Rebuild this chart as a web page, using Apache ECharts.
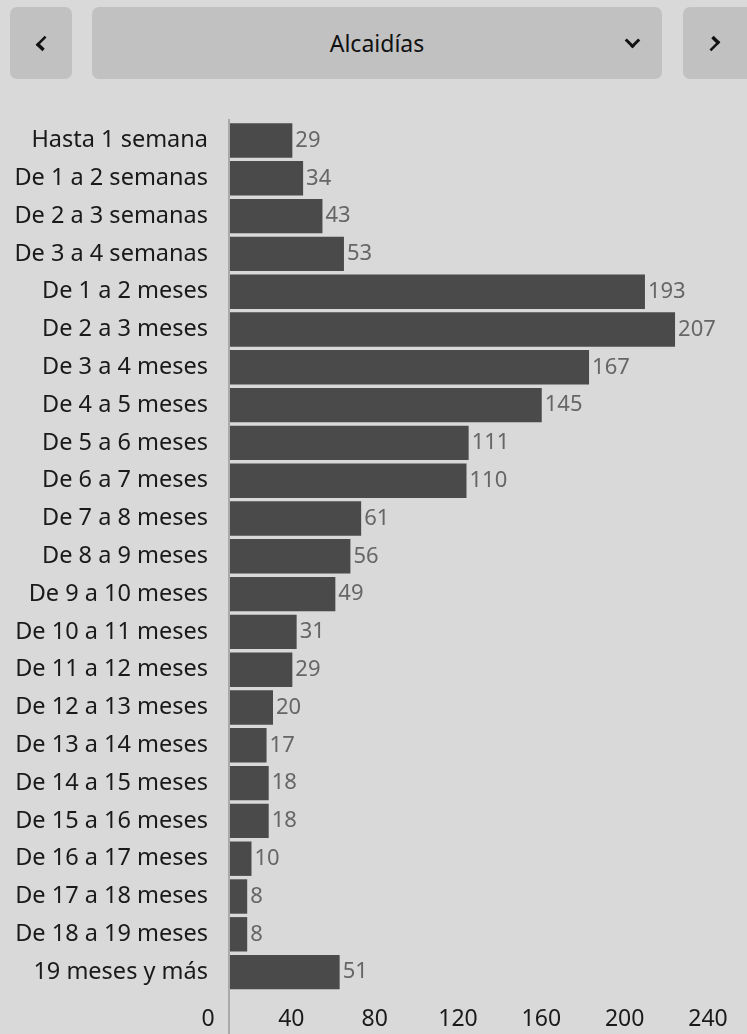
<!DOCTYPE html>
<html>
<head>
<meta charset="utf-8">
<script src="https://cdn.jsdelivr.net/npm/echarts@6/dist/echarts.min.js"></script>
<style>
  html, body { margin: 0; padding: 0; background: #d9d9d9; font-family: "Noto Sans", sans-serif; }
  #top { position: absolute; left: 0; top: 0; width: 747px; height: 90px; }
  .btn { position: absolute; top: 7px; height: 72px; background: #c1c1c1; border-radius: 7px; }
  .chev { position: absolute; width: 8px; height: 8px; border-left: 3px solid #111; border-bottom: 3px solid #111; }
  #main { position: absolute; left: 0; top: 0; width: 747px; height: 1034px; }
</style>
</head>
<body>
<div id="top">
  <div class="btn" style="left:10px;width:62px;">
    <div class="chev" style="left:28px;top:31px;transform:rotate(45deg) scale(0.85,1.15);"></div>
  </div>
  <div class="btn" style="left:92px;width:570px;">
    <div style="position:absolute;left:0;right:0;top:20px;text-align:center;font-size:23px;color:#111;">Alcaidías</div>
    <div class="chev" style="left:535px;top:28px;transform:rotate(-45deg);"></div>
  </div>
  <div class="btn" style="left:683px;width:64px;border-radius:7px 0 0 7px;">
    <div class="chev" style="left:24px;top:31px;transform:rotate(-135deg) scale(0.85,1.15);"></div>
  </div>
</div>
<div id="main"></div>
<script>
var categorias = ['Hasta 1 semana', 'De 1 a 2 semanas', 'De 2 a 3 semanas', 'De 3 a 4 semanas',
  'De 1 a 2 meses', 'De 2 a 3 meses', 'De 3 a 4 meses', 'De 4 a 5 meses', 'De 5 a 6 meses',
  'De 6 a 7 meses', 'De 7 a 8 meses', 'De 8 a 9 meses', 'De 9 a 10 meses', 'De 10 a 11 meses',
  'De 11 a 12 meses', 'De 12 a 13 meses', 'De 13 a 14 meses', 'De 14 a 15 meses',
  'De 15 a 16 meses', 'De 16 a 17 meses', 'De 17 a 18 meses', 'De 18 a 19 meses', '19 meses y más'];
var valores = [29, 34, 43, 53, 193, 207, 167, 145, 111, 110, 61, 56, 49, 31, 29, 20, 17, 18, 18, 10, 8, 8, 51];
var ticks = [0, 40, 80, 120, 160, 200, 240];

var myChart = echarts.init(document.getElementById('main'));
var fuente = '"Noto Sans", sans-serif';
var option = {
  animation: false,
  textStyle: { fontFamily: fuente },
  grid: [
    { left: 230, right: 1, top: 121.6, bottom: 43 },
    { left: 208, right: 39, top: 1003, height: 1 }  // fila de etiquetas del eje
  ],
  xAxis: [
    { gridIndex: 0, type: 'value', min: 0, max: 240, show: false },
    {
      gridIndex: 1, type: 'value', min: ticks[0], max: ticks[ticks.length - 1], interval: 40,
      axisLine: { show: false }, axisTick: { show: false }, splitLine: { show: false },
      axisLabel: { color: '#1a1a1a', fontSize: 23, margin: 4, fontFamily: fuente }
    }
  ],
  yAxis: [
    {
      gridIndex: 0, type: 'category', inverse: true, data: categorias,
      axisLine: { show: false }, axisTick: { show: false },
      axisLabel: { color: '#1a1a1a', fontSize: 23.5, margin: 22, padding: [4, 0, 0, 0], fontFamily: fuente }
    },
    { gridIndex: 1, type: 'value', show: false }
  ],
  graphic: [{
    type: 'line', z: 10,
    shape: { x1: 229, y1: 119, x2: 229, y2: 1034 },
    style: { stroke: '#a9a9a9', lineWidth: 2 }
  }],
  series: [{
    type: 'bar', xAxisIndex: 0, yAxisIndex: 0,
    data: valores,
    barCategoryGap: '9%',
    itemStyle: { color: '#4a4a4a' },
    label: { show: true, position: 'right', distance: 3, color: '#666', fontSize: 22, padding: [3, 0, 0, 0], fontFamily: fuente }
  }]
};
myChart.setOption(option);
</script>
</body>
</html>
